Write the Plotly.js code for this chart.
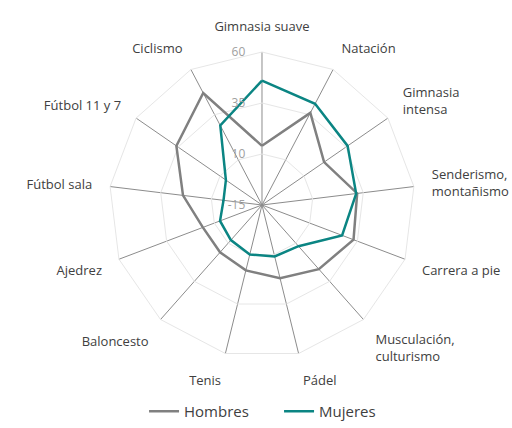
<!DOCTYPE html>
<html>
<head>
<meta charset="utf-8">
<script src="https://cdn.plot.ly/plotly-3.0.1.min.js"></script>
<style>html,body{margin:0;padding:0;background:#fff}#chart{width:512px;height:428px}</style>
</head>
<body>
<div id="chart"></div>
<script>
const categories = ["Gimnasia suave", "Natación", "Gimnasia<br>intensa", "Senderismo,<br>montañismo", "Carrera a pie", "Musculación,<br>culturismo", "Pádel", "Tenis", "Baloncesto", "Ajedrez", "Fútbol sala", "Fútbol 11 y 7", "Ciclismo"];
const hombres = [14, 36, 22, 32, 33, 27, 22, 18, 16, 16, 24, 36, 47];
const mujeres = [46, 41, 36, 31.5, 27, 12, 11, 10, 8, 7, 4, 6.5, 29];
const radialTicks = [-15, 10, 35, 60];

function closed(a) { return a.concat([a[0]]); }

const traces = [
  {type: "scatterpolar", mode: "lines", name: "Hombres", r: closed(hombres), theta: closed(categories),
   line: {color: "#808080", width: 2.5}},
  {type: "scatterpolar", mode: "lines", name: "Mujeres", r: closed(mujeres), theta: closed(categories),
   line: {color: "#0b8583", width: 2.5}}
];

const layout = {
  width: 512, height: 428,
  margin: {l: 0, r: 0, t: 0, b: 0},
  paper_bgcolor: "#fff",
  font: {family: "'Open Sans', sans-serif", color: "#404040", size: 13},
  showlegend: true,
  legend: {orientation: "h", x: 0.545, xanchor: "center", y: 0, yanchor: "bottom",
           entrywidth: 90, font: {size: 15, color: "#404040"}},
  polar: {
    domain: {x: [0.2129, 0.8105], y: [0.1636, 0.8785]},
    gridshape: "linear",
    bgcolor: "#fff",
    angularaxis: {
      type: "category", rotation: 90, direction: "clockwise",
      categoryorder: "array", categoryarray: categories,
      showline: true, linecolor: "#e6e6e6", linewidth: 1,
      showgrid: true, gridcolor: "#8c8c8c", gridwidth: 1,
      ticks: "outside", ticklen: 15, tickcolor: "rgba(0,0,0,0)",
      tickfont: {size: 13, color: "#404040"}
    },
    radialaxis: {
      range: [-15, 60], tickvals: radialTicks, ticktext: radialTicks.map(String),
      angle: 90, tickangle: 90, side: "counterclockwise",
      showline: false, ticks: "outside", ticklen: 12, tickcolor: "rgba(0,0,0,0)",
      showgrid: true, gridcolor: "#e6e6e6", gridwidth: 1,
      tickfont: {size: 12, color: "#a0a0a0"}
    }
  }
};

Plotly.newPlot("chart", traces, layout, {displayModeBar: false, staticPlot: true});
</script>
</body>
</html>
